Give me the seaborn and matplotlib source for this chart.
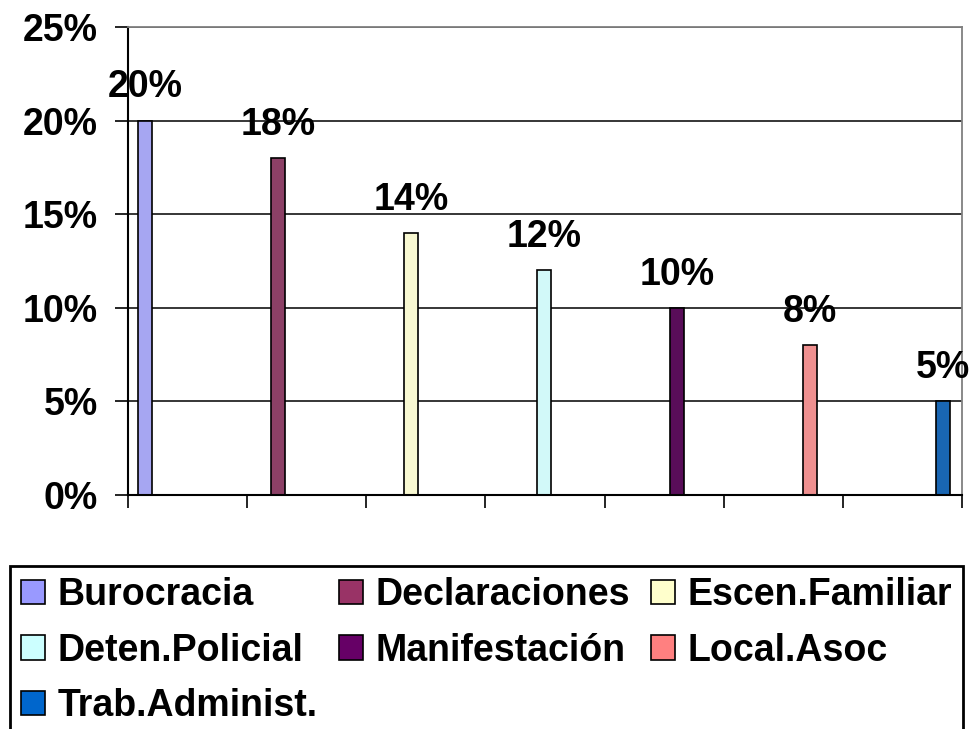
import numpy as np
import pandas as pd
import seaborn as sns
import matplotlib.pyplot as plt
from matplotlib.patches import Patch
from matplotlib.ticker import PercentFormatter

categories = ["Burocracia", "Declaraciones", "Escen.Familiar", "Deten.Policial",
              "Manifestación", "Local.Asoc", "Trab.Administ."]
values = [20, 18, 14, 12, 10, 8, 5]
colors = ["#9999FF", "#993366", "#FFFFCC", "#CCFFFF", "#660066", "#FF8080", "#0066CC"]

df = pd.DataFrame({"cat": categories, "pct": values})
palette = dict(zip(categories, colors))

sns.set_style("white")
plt.rcParams["font.family"] = ["Liberation Sans", "DejaVu Sans"]
plt.rcParams["font.weight"] = "bold"
for k in ["text.color", "axes.labelcolor", "xtick.color", "ytick.color"]:
    plt.rcParams[k] = "black"

FS = 27

fig = plt.figure(figsize=(9.73, 7.29), dpi=100)
ax = fig.add_axes([128 / 973, 1 - 495 / 729, 834 / 973, 468 / 729])

sns.barplot(data=df, x="cat", y="pct", hue="cat", palette=palette, order=categories,
            hue_order=categories, width=0.105, edgecolor="black", linewidth=1.2,
            legend=False, ax=ax)

for cont, v in zip(ax.containers, values):
    ax.bar_label(cont, labels=[f"{v}%"], padding=11, fontsize=FS, fontweight="bold")

# plot area: bars sit ~133 px apart, category ticks split the width in 7
ax.set_xlim(-0.128, 6.143)
ax.set_xticks(np.linspace(-0.128, 6.143, 8))
ax.set_xticklabels([])
ax.set_ylim(0, 25)
ax.set_yticks([0, 5, 10, 15, 20, 25])
ax.yaxis.set_major_formatter(PercentFormatter(100, decimals=0))
ax.set_xlabel("")
ax.set_ylabel("")
ax.tick_params(axis="both", direction="out", length=9.5, width=1.2, color="black",
               labelsize=FS, pad=12, left=True, bottom=True)
for lab in ax.get_yticklabels():
    lab.set_fontweight("bold")

ax.set_axisbelow(True)
ax.yaxis.grid(True, color="black", linewidth=1.1)
ax.spines["left"].set_color("black")
ax.spines["bottom"].set_color("black")
ax.spines["left"].set_linewidth(1.5)
ax.spines["bottom"].set_linewidth(1.5)
for s in ["top", "right"]:
    ax.spines[s].set_visible(True)
    ax.spines[s].set_color("#808080")
    ax.spines[s].set_linewidth(1.3)

# legend filled row by row (matplotlib fills columns first)
order = [0, 3, 6, 1, 4, 2, 5]
handles = [Patch(facecolor=colors[i], edgecolor="black", linewidth=1.2) for i in order]
labels = [categories[i] for i in order]
leg = fig.legend(handles, labels, loc="upper left", bbox_to_anchor=(10 / 973, 1 - 566 / 729),
                 ncol=3, fontsize=FS, frameon=True, fancybox=False, shadow=False, framealpha=1,
                 handlelength=0.64, handleheight=0.62, handletextpad=0.32,
                 columnspacing=0.58, labelspacing=0.52, borderpad=0.3, borderaxespad=0)
leg.get_frame().set_edgecolor("black")
leg.get_frame().set_linewidth(2)
for t in leg.get_texts():
    t.set_fontweight("bold")

fig.savefig("out.png", dpi=100, facecolor="white")
